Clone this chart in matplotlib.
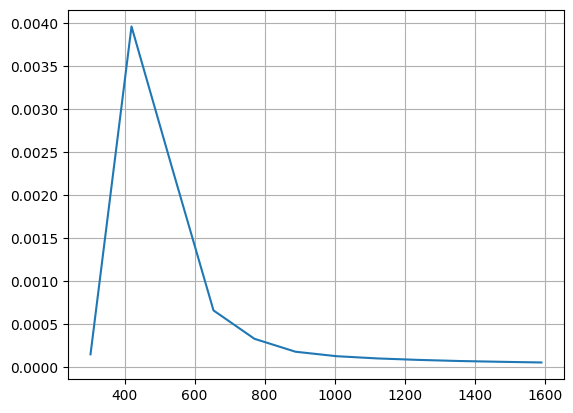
import matplotlib
matplotlib.use("Agg")
import matplotlib.pyplot as plt

x_values = [303, 420, 537, 654, 771, 888, 1005, 1122, 1239, 1356, 1473, 1590]
y_values = [0.00015, 0.00396, 0.0023, 0.00066, 0.00033, 0.00018, 0.000128,
            0.000102, 0.000085, 0.000072, 0.000063, 0.000055]

fig, ax = plt.subplots(figsize=(6.4, 4.8), dpi=100)
ax.plot(x_values, y_values)
ax.grid(True)
fig.savefig("out.png", bbox_inches="tight")
